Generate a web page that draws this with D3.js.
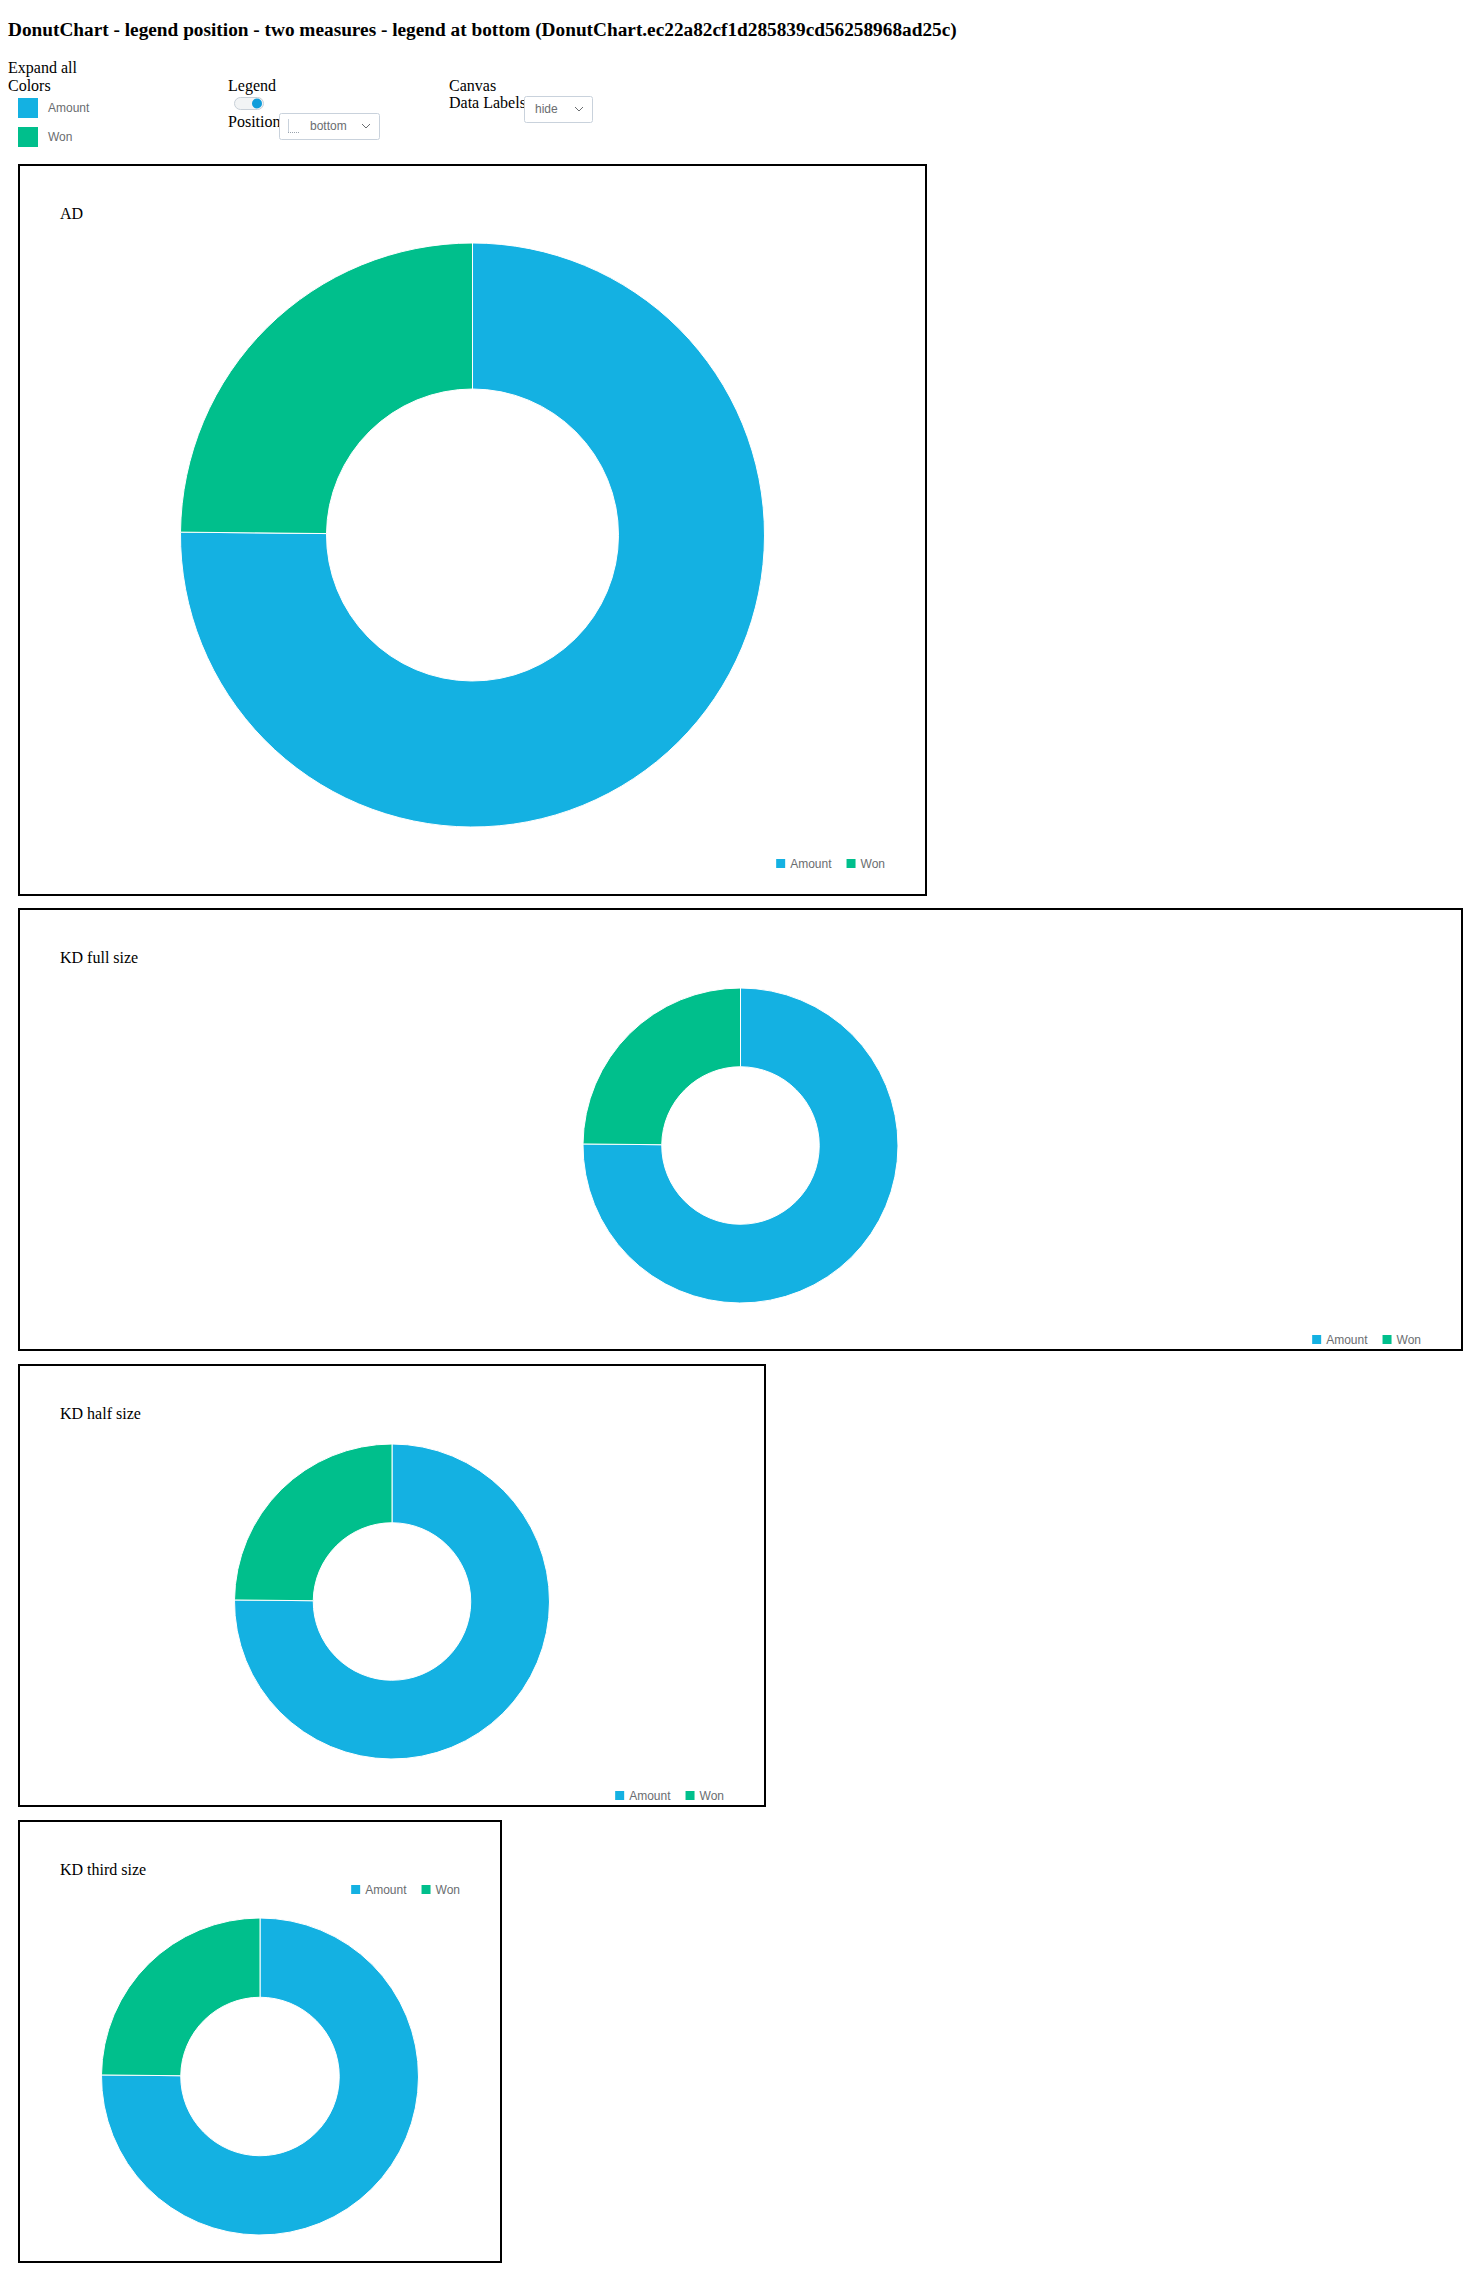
<!DOCTYPE html>
<html><head><meta charset="utf-8">
<script src="https://cdn.jsdelivr.net/npm/d3@7"></script>
<style>html,body{margin:0;padding:0;overflow:hidden;background:#fff}</style>
</head><body><svg id="c" width="1464" height="2275"></svg>
<script>
// ---- data ----
const categories = ["Amount", "Won"];
const values = [3010, 995];
const colors = ["#14b1e2", "#00bf8c"];
const chartTitles = ["AD", "KD full size", "KD half size", "KD third size"];
const legendPositions = ["bottom", "bottom", "bottom", "top"];
const pageTitle = "DonutChart - legend position - two measures - legend at bottom (DonutChart.ec22a82cf1d285839cd56258968ad25c)";

// ---- layout ----
const panels = [
  {x: 18, y: 164, w: 909, h: 732, plotTop: 79, plotBottom: 69, legendDY: -32.5},
  {x: 18, y: 908, w: 1445, h: 443, plotTop: 80, plotBottom: 48, legendDY: -11.5},
  {x: 18, y: 1364, w: 748, h: 443, plotTop: 80, plotBottom: 48, legendDY: -11.5},
  {x: 18, y: 1820, w: 484, h: 443, plotTop: 98, plotBottom: 28, legendDY: 69.5}
];

const svg = d3.select("#c");
const serif = "'Liberation Serif','Times New Roman',serif";
const sans = "'Liberation Sans',Arial,sans-serif";
const gray = "#6a6d70";

// page title & controls
svg.append("text").attr("x", 8).attr("y", 36).attr("font-family", serif)
  .attr("font-size", 19.3).attr("font-weight", "bold").text(pageTitle);
const lbl = (x, y, t) => svg.append("text").attr("x", x).attr("y", y)
  .attr("font-family", serif).attr("font-size", 16).attr("fill", "#000").text(t);
lbl(8, 73, "Expand all");
lbl(8, 91, "Colors");
lbl(228, 91, "Legend");
lbl(228, 127, "Position");
lbl(449, 91, "Canvas");
lbl(449, 108, "Data Labels");

const cScale = d3.scaleOrdinal().domain(categories).range(colors);
categories.forEach((c, i) => {
  svg.append("rect").attr("x", 18).attr("y", 98 + i * 29).attr("width", 20).attr("height", 20)
    .attr("fill", cScale(c));
  svg.append("text").attr("x", 48).attr("y", 112 + i * 29).attr("font-family", sans)
    .attr("font-size", 12).attr("fill", gray).text(c);
});

// toggle
svg.append("rect").attr("x", 234.5).attr("y", 97.5).attr("width", 29).attr("height", 12).attr("rx", 6)
  .attr("fill", "#f2f4f5").attr("stroke", "#c8d0d8");
svg.append("circle").attr("cx", 257).attr("cy", 103.5).attr("r", 5).attr("fill", "#0f9ddb");

// dropdowns
function dropdown(x, y, w, h, txt, tx, icon) {
  svg.append("rect").attr("x", x + 0.5).attr("y", y + 0.5).attr("width", w).attr("height", h).attr("rx", 2)
    .attr("fill", "#fff").attr("stroke", "#c9d2dc");
  if (icon) {
    svg.append("line").attr("x1", x + 9.5).attr("x2", x + 9.5).attr("y1", y + 6).attr("y2", y + 19)
      .attr("stroke", "#c9d2dc");
    svg.append("line").attr("x1", x + 9).attr("x2", x + 21).attr("y1", y + 19.5).attr("y2", y + 19.5)
      .attr("stroke", "#9aa3ad").attr("stroke-dasharray", "1,1");
  }
  svg.append("text").attr("x", tx).attr("y", y + h / 2 + 4).attr("font-family", sans)
    .attr("font-size", 12).attr("fill", gray).text(txt);
  const cx = x + w - 13, cy = y + h / 2;
  svg.append("path").attr("d", `M${cx - 4},${cy - 2}L${cx},${cy + 2}L${cx + 4},${cy - 2}`)
    .attr("fill", "none").attr("stroke", gray).attr("stroke-width", 1);
}
dropdown(279, 113, 100, 26, "bottom", 310, true);
dropdown(524, 96, 68, 26, "hide", 535, false);

// ---- charts ----
const pie = d3.pie().sort(null).value(d => d.value);
const data = categories.map((c, i) => ({cat: c, value: values[i]}));

panels.forEach((p, k) => {
  const g = svg.append("g");
  g.append("rect").attr("x", p.x + 1).attr("y", p.y + 1).attr("width", p.w - 2).attr("height", p.h - 2)
    .attr("fill", "#fff").attr("stroke", "#000").attr("stroke-width", 2);
  g.append("text").attr("x", 60).attr("y", p.y + 55).attr("font-family", serif).attr("font-size", 16)
    .text(chartTitles[k]);

  const R = (p.h - p.plotTop - p.plotBottom) / 2;
  const cx = p.x + p.w / 2, cy = p.y + p.plotTop + R;
  const arc = d3.arc().innerRadius(R / 2).outerRadius(R);
  g.append("g").attr("transform", `translate(${cx},${cy})`)
    .selectAll("path").data(pie(data)).join("path")
    .attr("d", arc).attr("fill", d => cScale(d.data.cat))
    .attr("stroke", "#fff").attr("stroke-width", 1);

  // legend (right aligned)
  const ly = legendPositions[k] === "top" ? p.y + p.legendDY : p.y + p.h + p.legendDY;
  const lg = g.append("g");
  let xx = 0;
  categories.forEach((c, i) => {
    lg.append("rect").attr("x", xx).attr("y", ly - 4.5).attr("width", 9).attr("height", 9).attr("fill", cScale(c));
    const t = lg.append("text").attr("x", xx + 14).attr("y", ly + 4).attr("font-family", sans)
      .attr("font-size", 12).attr("fill", gray).text(c);
    xx += 14 + t.node().getComputedTextLength() + 15;
  });
  const lw = xx - 15;
  lg.attr("transform", `translate(${p.x + p.w - 42 - lw},0)`);
});
</script></body></html>
